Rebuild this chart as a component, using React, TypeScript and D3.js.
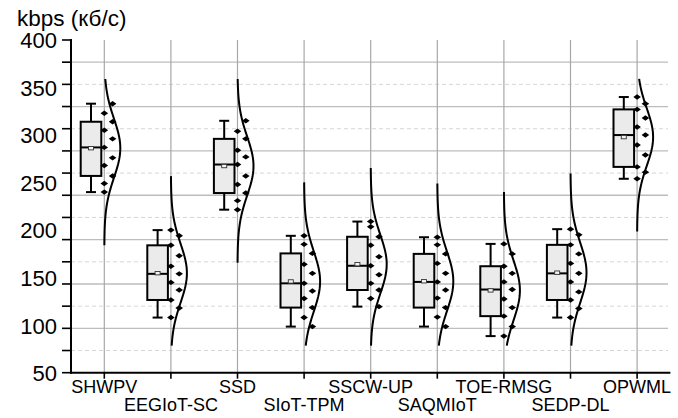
import { useEffect, useRef } from 'react';
import * as d3 from 'd3';

// methods on the x axis
const categories = [
    'SHWPV',
    'EEGIoT-SC',
    'SSD',
    'SIoT-TPM',
    'SSCW-UP',
    'SAQMIoT',
    'TOE-RMSG',
    'SEDP-DL',
    'OPWML',
];

// measured throughput per run (kbps), in recorded order
const shwpv = [323, 333, 305, 314, 287, 296, 268, 276, 249, 257, 240];
const eegiotSc = [200, 194, 184, 173, 162, 154, 145, 137, 126.5, 118, 108];
const ssd = [304, 315, 284, 296, 269, 277, 248, 257, 231, 239, 221.5];
const siotTpm = [194, 175.5, 185, 154.5, 164, 136, 144, 118.5, 128, 98.5, 108];
const sscwUp = [209, 193, 203.5, 172, 184, 153, 162.5, 137, 144, 119.5, 128];
const saqmiot = [192.5, 175, 184.5, 154.5, 165, 137, 145.5, 118.5, 128.5, 98.5, 108.5];
const toeRmsg = [185.5, 175, 162, 154.5, 145.5, 137.5, 127.5, 118.5, 109.5, 98.5, 88.5];
const sedpDl = [201, 195, 184.5, 175, 165, 154.5, 145.5, 135, 126.5, 117.5, 108];
const opwml = [340, 333, 327, 318, 308.5, 300, 289.5, 279, 266.5, 261, 254];

const series = [shwpv, eegiotSc, ssd, siotTpm, sscwUp, saqmiot, toeRmsg, sedpDl, opwml];

const yTickLabels = [50, 100, 150, 200, 250, 300, 350, 400];
const yDomain = [50, 400];
const minorTickCount = 15;
// the fitted curves are only drawn inside this band
const densityRange = [78.5, 359];

// quartile with the (n+1)p rule
const quantile = (sorted, p) => {
    const n = sorted.length;
    const h = (n + 1) * p;
    const lo = Math.min(Math.max(Math.floor(h), 1), n);
    const hi = Math.min(lo + 1, n);
    return sorted[lo - 1] + (h - Math.floor(h)) * (sorted[hi - 1] - sorted[lo - 1]);
};

const App = () => {
    const svgRef = useRef(null);

    useEffect(() => {
        const svg = d3.select(svgRef.current);
        svg.selectAll('*').remove();

        const left = 71;
        const top = 40;
        const bottom = 372.7;
        const right = 670.4;
        const font = "'Liberation Sans', Arial, sans-serif";

        const x = d3.scalePoint().domain(categories).range([left, right]).padding(0.5);
        const y = d3.scaleLinear().domain(yDomain).range([bottom, top]);

        const gridTicks = d3.range(minorTickCount + 1).map((i) => yDomain[0] + (i * (yDomain[1] - yDomain[0])) / minorTickCount);

        // horizontal grid, solid and dashed alternating
        gridTicks.forEach((t, i) => {
            const k = minorTickCount - i;
            if (k === 0 || k === minorTickCount) return;
            svg.append('line')
                .attr('x1', left)
                .attr('x2', 668)
                .attr('y1', y(t))
                .attr('y2', y(t))
                .attr('stroke', k % 2 === 1 ? '#bdbdbd' : '#d6d6d6')
                .attr('stroke-width', k % 2 === 1 ? 1.3 : 1)
                .attr('stroke-dasharray', k % 2 === 1 ? null : '4,3');
        });

        // vertical grid
        categories.forEach((c) => {
            svg.append('line')
                .attr('x1', x(c))
                .attr('x2', x(c))
                .attr('y1', top)
                .attr('y2', bottom)
                .attr('stroke', '#a8a8a8')
                .attr('stroke-width', 1.2);
        });

        const boxW = 20.6;
        const boxShift = -13.3;
        const capW = 10;
        const dotShift = 8.3;
        const curveW = 16;

        series.forEach((vals, ci) => {
            const cx = x(categories[ci]);
            const sorted = [...vals].sort(d3.ascending);
            const q1 = quantile(sorted, 0.25);
            const q3 = quantile(sorted, 0.75);
            const med = d3.median(sorted);
            const lo = d3.min(sorted);
            const hi = d3.max(sorted);
            const mu = d3.mean(vals);
            const sd = d3.deviation(vals);
            const bx = cx + boxShift;

            const g = svg.append('g');

            // whiskers
            g.append('line').attr('x1', bx).attr('x2', bx).attr('y1', y(hi)).attr('y2', y(q3))
                .attr('stroke', '#000').attr('stroke-width', 2);
            g.append('line').attr('x1', bx).attr('x2', bx).attr('y1', y(q1)).attr('y2', y(lo))
                .attr('stroke', '#000').attr('stroke-width', 2);
            [hi, lo].forEach((v) => {
                g.append('line').attr('x1', bx - capW / 2).attr('x2', bx + capW / 2).attr('y1', y(v)).attr('y2', y(v))
                    .attr('stroke', '#000').attr('stroke-width', 2);
            });

            // box
            g.append('rect')
                .attr('x', bx - boxW / 2)
                .attr('y', y(q3))
                .attr('width', boxW)
                .attr('height', y(q1) - y(q3))
                .attr('fill', '#ebebeb')
                .attr('stroke', '#000')
                .attr('stroke-width', 2);
            g.append('line').attr('x1', bx - boxW / 2).attr('x2', bx + boxW / 2).attr('y1', y(med)).attr('y2', y(med))
                .attr('stroke', '#000').attr('stroke-width', 2);
            g.append('rect')
                .attr('x', bx - 2.5)
                .attr('y', y(mu) - 1.7)
                .attr('width', 5)
                .attr('height', 3.4)
                .attr('fill', '#f4f4f4')
                .attr('stroke', '#333')
                .attr('stroke-width', 0.9);

            // fitted normal curve
            const c0 = Math.max(mu - 3.3 * sd, densityRange[0]);
            const c1 = Math.min(mu + 3.3 * sd, densityRange[1]);
            const samples = d3.range(81).map((i) => c0 + ((c1 - c0) * i) / 80);
            const curve = d3.line()
                .x((v) => cx + curveW * Math.exp(-0.5 * ((v - mu) / sd) ** 2))
                .y((v) => y(v));
            g.append('path')
                .datum(samples)
                .attr('d', curve)
                .attr('fill', 'none')
                .attr('stroke', '#000')
                .attr('stroke-width', 2);

            // data points
            g.selectAll('.dot')
                .data(vals)
                .enter()
                .append('path')
                .attr('d', 'M0,-2.7L3.8,0L0,2.7L-3.8,0Z')
                .attr('transform', (v, i) => `translate(${cx + (i % 2) * dotShift},${y(v)})`)
                .attr('fill', '#000');
        });

        // y axis
        svg.append('line').attr('x1', left).attr('x2', left).attr('y1', top - 1).attr('y2', bottom + 1)
            .attr('stroke', '#000').attr('stroke-width', 2);
        gridTicks.forEach((t) => {
            svg.append('line').attr('x1', left - 9).attr('x2', left).attr('y1', y(t)).attr('y2', y(t))
                .attr('stroke', '#000').attr('stroke-width', 1.6);
        });
        yTickLabels.forEach((t) => {
            svg.append('text')
                .attr('x', 57)
                .attr('y', y(t))
                .attr('dy', '0.38em')
                .attr('text-anchor', 'end')
                .attr('font-family', font)
                .attr('font-size', 22)
                .text(t);
        });

        // x axis
        svg.append('line').attr('x1', left - 1).attr('x2', right).attr('y1', bottom).attr('y2', bottom)
            .attr('stroke', '#000').attr('stroke-width', 2);
        categories.forEach((c, i) => {
            svg.append('line').attr('x1', x(c)).attr('x2', x(c)).attr('y1', bottom).attr('y2', bottom + 6)
                .attr('stroke', '#000').attr('stroke-width', 1.6);
            svg.append('text')
                .attr('x', x(c))
                .attr('y', i % 2 === 0 ? 392.5 : 410.5)
                .attr('text-anchor', 'middle')
                .attr('font-family', font)
                .attr('font-size', 18)
                .text(c);
        });

        svg.append('text')
            .attr('x', 17)
            .attr('y', 25.5)
            .attr('font-family', font)
            .attr('font-size', 22.5)
            .text('kbps (кб/с)');
    }, []);

    return (
        <svg
            ref={svgRef}
            width={678}
            height={418}
            style={{ position: 'absolute', left: 0, top: 0, background: '#fff' }}
        />
    );
};

export default App;
